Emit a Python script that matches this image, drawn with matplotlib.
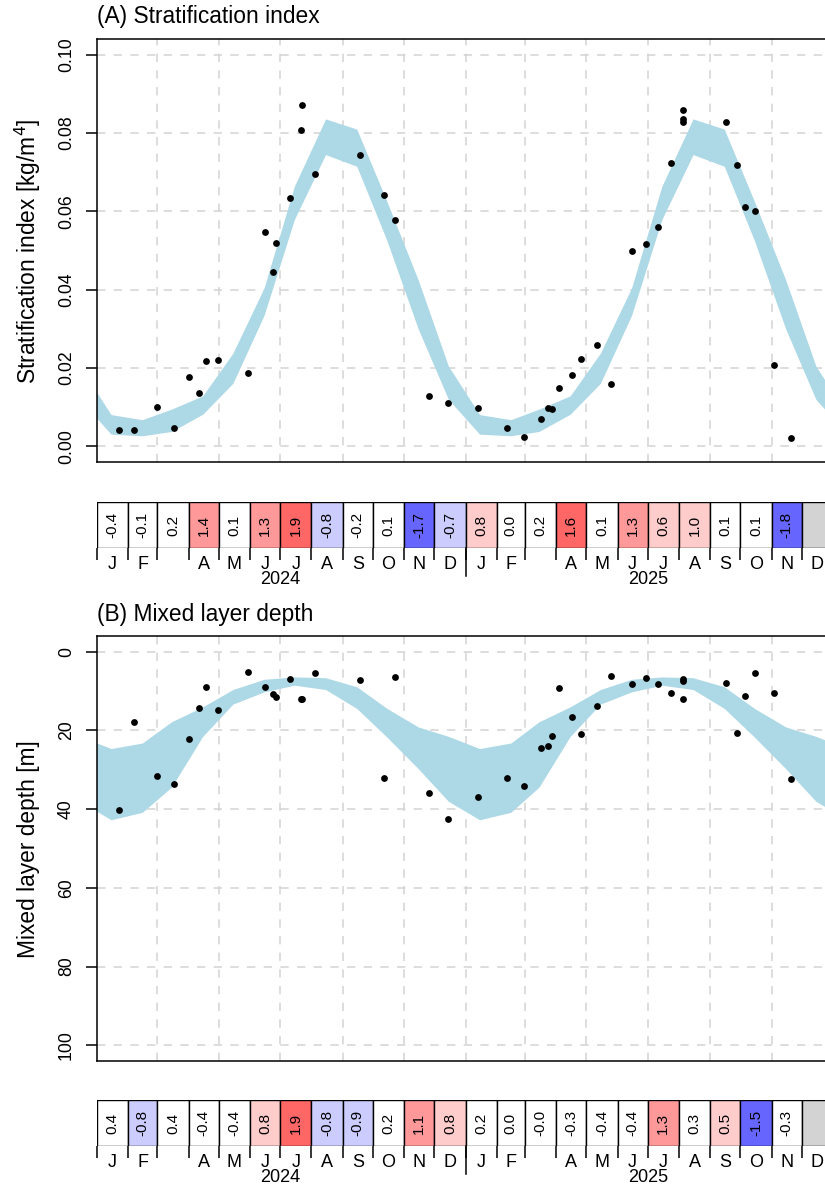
import matplotlib
matplotlib.use("Agg")
import matplotlib.pyplot as plt
import matplotlib.dates as mdates
import matplotlib.ticker as mticker
import numpy as np
import pandas as pd

plt.rcParams['font.family'] = ['Liberation Sans', 'DejaVu Sans']
plt.rcParams['lines.scale_dashes'] = False

# sampling dates (same casts used in both panels)
sample_dates = ['2024-01-23', '2024-02-07', '2024-03-01', '2024-03-17', '2024-04-01',
                '2024-04-11', '2024-04-18', '2024-04-30', '2024-05-30', '2024-06-16',
                '2024-06-24', '2024-06-27', '2024-07-11', '2024-07-22', '2024-07-23',
                '2024-08-05', '2024-09-18', '2024-10-12', '2024-10-23', '2024-11-26',
                '2024-12-15', '2025-01-13', '2025-02-11', '2025-02-28', '2025-03-17',
                '2025-03-24', '2025-03-28', '2025-04-04', '2025-04-17', '2025-04-26',
                '2025-05-12', '2025-05-26', '2025-06-15', '2025-06-29', '2025-07-11',
                '2025-07-24', '2025-08-05', '2025-08-05', '2025-08-05', '2025-09-17',
                '2025-09-28', '2025-10-06', '2025-10-16', '2025-11-03', '2025-11-20']

strat_obs = [0.0042, 0.0042, 0.0101, 0.0048, 0.0176, 0.0135, 0.0218, 0.0220, 0.0187, 0.0548,
             0.0446, 0.0520, 0.0635, 0.0808, 0.0871, 0.0695, 0.0745, 0.0641, 0.0579, 0.0129,
             0.0111, 0.0098, 0.0047, 0.0023, 0.0070, 0.0098, 0.0095, 0.0149, 0.0182, 0.0222,
             0.0258, 0.0159, 0.0500, 0.0516, 0.0560, 0.0724, 0.0859, 0.0836, 0.0828, 0.0829,
             0.0719, 0.0610, 0.0602, 0.0207, 0.0022]

mld_obs = [40.3, 17.9, 31.7, 33.5, 22.3, 14.3, 9.0, 14.8, 5.2, 9.0,
           10.8, 11.5, 7.0, 12.1, 12.1, 5.4, 7.2, 32.1, 6.4, 35.8,
           42.5, 36.8, 32.0, 34.2, 24.4, 23.9, 21.5, 9.3, 16.7, 21.0,
           13.9, 6.2, 8.1, 6.6, 8.1, 10.5, 7.0, 7.4, 11.9, 8.0,
           20.6, 11.2, 5.3, 10.4, 32.4]

# monthly climatology range (Jan..Dec)
strat_clim_lo = [0.0031, 0.0027, 0.0038, 0.0082, 0.0161, 0.0335, 0.0579, 0.0745, 0.0715, 0.0525, 0.0300, 0.0120]
strat_clim_hi = [0.0081, 0.0068, 0.0095, 0.0129, 0.0238, 0.0405, 0.0664, 0.0836, 0.0810, 0.0625, 0.0425, 0.0205]
mld_clim_shallow = [24.6, 23.2, 17.8, 14.0, 9.6, 7.0, 6.4, 6.6, 8.9, 14.4, 19.1, 21.5]
mld_clim_deep = [42.7, 40.8, 34.4, 21.5, 13.3, 10.2, 8.5, 9.6, 14.4, 21.7, 29.7, 38.0]

# monthly anomalies (Jan 2024 .. Dec 2025), nan = no data
strat_anom = [-0.4, -0.1, 0.2, 1.4, 0.1, 1.3, 1.9, -0.8, -0.2, 0.1, -1.7, -0.7,
              0.8, 0.0, 0.2, 1.6, 0.1, 1.3, 0.6, 1.0, 0.1, 0.1, -1.8, np.nan]
mld_anom = [0.4, -0.8, 0.4, -0.4, -0.4, 0.8, 1.9, -0.8, -0.9, 0.2, 1.1, 0.8,
            0.2, 0.0, -0.0, -0.3, -0.4, -0.4, 1.3, 0.3, 0.5, -1.5, -0.3, np.nan]

month_letters = ['J', 'F', '', 'A', 'M', 'J', 'J', 'A', 'S', 'O', 'N', 'D']
years = [2024, 2025]

W, H = 825, 1185
fig = plt.figure(figsize=(W / 100, H / 100), dpi=100)


def px_axes(x0, y0, x1, y1):
    return fig.add_axes([x0 / W, 1 - y1 / H, (x1 - x0) / W, (y1 - y0) / H])


def anom_colour(v):
    if np.isnan(v):
        return '#D3D3D3'
    if v >= 1.5:
        return '#FF6666'
    if v > 1.0:
        return '#FF9999'
    if v >= 0.5:
        return '#FFCCCC'
    if v <= -1.5:
        return '#6666FF'
    if v < -1.0:
        return '#9999FF'
    if v <= -0.5:
        return '#CCCCFF'
    return 'white'


x_start = mdates.date2num(pd.Timestamp('2024-01-01'))
x_end = mdates.date2num(pd.Timestamp('2026-01-01'))
obs_x = mdates.date2num(pd.to_datetime(sample_dates))
mid_months = pd.date_range('2023-12-01', '2026-01-01', freq='MS') + pd.Timedelta(days=14)
band_x = mdates.date2num(mid_months)
grid_x = mdates.date2num(pd.date_range('2024-03-01', '2025-12-01', freq='2MS'))
month_starts = pd.date_range('2024-01-01', periods=24, freq='MS')
cell_x = mdates.date2num(month_starts)
cell_w = np.array(month_starts.days_in_month, dtype=float)
bounds = mdates.date2num(pd.date_range('2024-01-01', '2026-01-01', freq='MS'))


def main_panel(y0, y1, obs, lo, hi, yticks, ylim, fmt):
    ax = px_axes(97, y0, 833, y1)
    lo_b = [lo[d.month - 1] for d in mid_months]
    hi_b = [hi[d.month - 1] for d in mid_months]
    ax.fill_between(band_x, lo_b, hi_b, color='#ADD8E6', lw=0, zorder=2)
    ax.scatter(obs_x, obs, s=24, color='black', zorder=3, linewidths=0)
    ax.set_xlim(x_start, x_end)
    ax.set_ylim(*ylim)
    ax.set_yticks(yticks)
    ax.yaxis.set_major_formatter(mticker.FormatStrFormatter(fmt))
    ax.set_xticks(grid_x)
    ax.tick_params(axis='x', length=0, labelbottom=False)
    ax.tick_params(axis='y', length=8, width=1.1, pad=8, labelsize=12.7)
    for lab in ax.get_yticklabels():
        lab.set_rotation(90)
        lab.set_va('center')
    ax.grid(True, color='#D3D3D3', lw=1.1, linestyle=(0, (6, 6)), zorder=1)
    ax.set_axisbelow(True)
    for sp in ax.spines.values():
        sp.set_linewidth(1.1)
    return ax


def strip_panel(y0, y1, anom):
    ax = px_axes(97, y0, 833, y1)
    cols = [anom_colour(v) for v in anom]
    ax.bar(cell_x, 1, width=cell_w, align='edge', color=cols, edgecolor='black', linewidth=1.0)
    for x, w, v in zip(cell_x, cell_w, anom):
        if not np.isnan(v):
            ax.text(x + w / 2, 0.5, '{:.1f}'.format(v), rotation=90, ha='center', va='center', fontsize=11)
    ax.set_xlim(x_start, x_end)
    ax.set_ylim(0, 1)
    ax.set_yticks([])
    ax.set_xticks(bounds)
    ax.tick_params(axis='x', length=8.5, width=1.1, labelbottom=False)
    for sp in ax.spines.values():
        sp.set_visible(False)
    strip_h = y1 - y0
    for i, (x, w) in enumerate(zip(cell_x, cell_w)):
        ax.annotate(month_letters[i % 12], xy=(x + w / 2, 0), xycoords=('data', 'axes fraction'),
                    xytext=(0, -5.6), textcoords='offset points', ha='center', va='top', fontsize=13)
    for yr in years:
        xm = mdates.date2num(pd.Timestamp(f'{yr}-07-01'))
        ax.annotate(str(yr), xy=(xm, 0), xycoords=('data', 'axes fraction'),
                    xytext=(0, -16.6), textcoords='offset points', ha='center', va='top', fontsize=13)
    xb = mdates.date2num(pd.Timestamp('2025-01-01'))
    ax.plot([xb, xb], [0, -28 / strip_h], color='black', lw=1.1,
            transform=ax.get_xaxis_transform(), clip_on=False)
    return ax


main_panel(39, 462, strat_obs, strat_clim_lo, strat_clim_hi,
           [0.0, 0.02, 0.04, 0.06, 0.08, 0.10], (-0.004, 0.104), '%.2f')
strip_panel(502, 548, strat_anom)
main_panel(636, 1061, mld_obs, mld_clim_shallow, mld_clim_deep,
           [0, 20, 40, 60, 80, 100], (104, -4), '%d')
strip_panel(1100, 1146, mld_anom)

fig.text(97 / W, 1 - 22.5 / H, '(A) Stratification index', fontsize=16.4, ha='left', va='baseline')
fig.text(97 / W, 1 - 621 / H, '(B) Mixed layer depth', fontsize=16.4, ha='left', va='baseline')
fig.text(28 / W, 1 - 251 / H, 'Stratification index [kg/m$^{4}$]', fontsize=16.4,
         rotation=90, ha='center', va='center')
fig.text(28 / W, 1 - 849 / H, 'Mixed layer depth [m]', fontsize=16.4,
         rotation=90, ha='center', va='center')

fig.savefig('out.png', dpi=100)
